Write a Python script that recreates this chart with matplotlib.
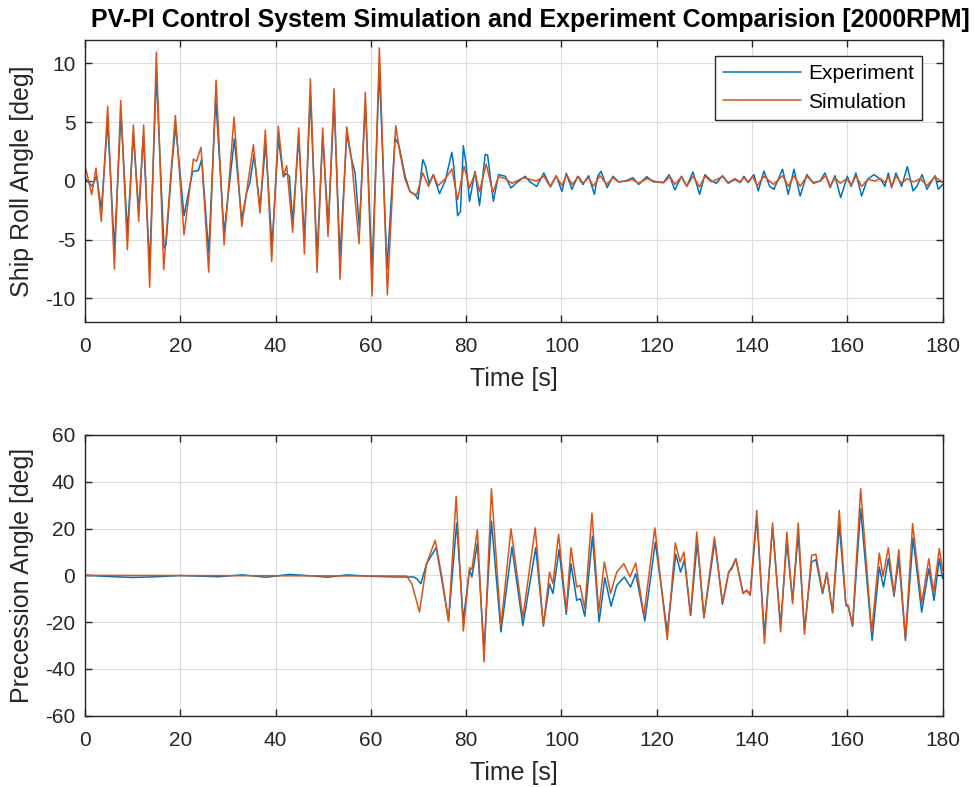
import matplotlib
matplotlib.use("Agg")
import matplotlib.pyplot as plt
import numpy as np

plt.rcParams['font.family'] = ['Liberation Sans', 'DejaVu Sans']
plt.rcParams['axes.unicode_minus'] = False

# ---- Ship roll angle [deg] ----
roll_sim_t = [0, 0.2, 1.4, 2.31, 3.43, 4.76, 6.16, 7.49, 8.89, 10.15, 11.27, 12.31, 13.57, 14.97,
              16.51, 18.96, 20.78, 22.74, 23.4, 24.35, 25.96, 27.5, 29.18, 31.28, 32.89, 35.33,
              36.73, 37.85, 39.18, 40.58, 41.63, 42.33, 43.59, 44.85, 46.04, 47.3, 48.7, 49.89,
              51.0, 52.27, 53.53, 54.93, 55.98, 57.52, 58.84, 60.24, 61.78, 63.46, 65.2, 66.1,
              67.2, 68.2, 69.6, 70.9, 72.1, 73.1, 74.1, 75.6, 77.0, 78.2, 79.56, 80.7, 81.86,
              82.8, 84.2, 85.6, 86.8, 88.2, 89.6, 92.0, 94.8, 96.3, 97.6, 98.9, 100.1, 101.1,
              102.2, 103.6, 104.5, 105.7, 106.7, 108.1, 109.5, 110.8, 112.0, 113.7, 114.8, 116.2,
              117.9, 120.0, 121.4, 122.8, 123.8, 125.2, 126.3, 127.6, 129.0, 130.1, 131.5, 133.8,
              135.0, 136.4, 137.5, 138.3, 139.2, 140.1, 141.1, 142.5, 144.5, 146.4, 147.6, 148.8,
              150.1, 151.5, 152.9, 154.3, 155.5, 156.4, 157.4, 158.5, 159.9, 160.8, 161.8, 163.0,
              164.4, 165.8, 167.0, 167.9, 168.6, 169.3, 170.2, 171.4, 172.5, 173.9, 175.3, 176.7,
              178.4, 180.0]
roll_sim_v = [0.9, 1.0, -1.17, 1.1, -3.44, 6.36, -7.5, 6.84, -5.86, 4.77, -3.44, 4.77, -9.04, 10.96,
              -7.55, 5.57, -4.58, 1.87, 1.67, 2.87, -7.76, 8.58, -5.43, 5.45, -3.87, 3.09,
              -2.73, 4.32, -6.85, 4.66, 0.4, 1.3, -4.38, 4.51, -6.2, 8.69, -7.79, 4.51,
              -4.72, 7.84, -8.36, 4.6, 1.67, -5.34, 7.55, -9.78, 11.33, -9.69, 4.71, 2.38,
              0.12, -0.9, -1.2, 0.68, -0.46, 0.54, -0.4, 0.17, 1.02, -1.59, 1.25, -0.6, 0.68,
              -0.9, 1.45, -1.0, 0.37, 0.2, -0.2, 0.28, 0.0, 0.4, -0.46, 0.4, -0.4, 0.54,
              -0.3, 0.37, -0.2, 0.28, -0.46, 0.45, -0.3, 0.28, -0.08, 0.0, 0.14, -0.2,
              0.2, -0.08, -0.14, 0.37, -0.3, 0.37, -0.46, 0.4, -0.5, 0.4, -0.08, 0.37,
              -0.14, 0.2, -0.08, 0.28, -0.08, 0.4, -0.4, 0.4, -0.3, 0.45, -0.46, 0.45,
              -0.46, 0.4, -0.14, 0.0, 0.45, -0.46, 0.28, -0.2, 0.2, -0.4, 0.45, -0.46,
              0.14, 0.0, 0.2, -0.14, 0.4, -0.46, 0.4, -0.2, 0.2, -0.08, 0.2, -0.4,
              0.37, -0.14]

roll_exp_t = [0, 0.5, 1.5, 2.45, 3.43, 4.76, 6.16, 7.56, 8.89, 10.15, 11.27, 12.24, 13.57, 14.97,
              16.58, 17.0, 18.26, 19.03, 20.78, 22.6, 23.8, 24.5, 25.96, 27.43, 29.18, 31.35,
              32.89, 33.9, 34.6, 35.47, 36.73, 37.92, 39.25, 40.58, 41.63, 42.19, 42.9, 43.59,
              44.85, 46.04, 47.3, 48.7, 49.89, 51.07, 52.27, 53.53, 54.93, 55.98, 56.68, 57.59,
              58.84, 60.24, 61.78, 63.39, 65.07, 65.9, 67.2, 68.2, 69.3, 69.9, 70.9, 71.5, 72.2,
              73.1, 74.4, 75.6, 77.0, 77.4, 78.2, 78.8, 79.4, 79.97, 80.7, 81.86, 82.8, 84.0,
              84.5, 85.7, 86.8, 88.2, 89.4, 90.6, 92.4, 93.4, 94.8, 96.3, 97.7, 98.9, 100.1,
              101.0, 102.2, 103.4, 104.5, 105.7, 106.9, 107.6, 108.3, 109.6, 110.8, 112.0, 113.4,
              115.0, 116.2, 117.9, 119.3, 121.4, 122.6, 123.8, 125.2, 126.3, 127.6, 129.0, 130.1,
              131.5, 132.5, 133.8, 135.0, 136.4, 137.5, 138.3, 139.2, 140.4, 141.3, 142.5, 143.7,
              144.6, 146.4, 147.6, 148.8, 150.1, 151.5, 152.9, 154.3, 155.3, 156.4, 157.4, 158.6,
              160.0, 160.8, 161.8, 163.0, 164.2, 165.6, 167.0, 167.9, 168.6, 169.3, 170.2, 171.4,
              172.6, 173.8, 174.6, 175.7, 176.7, 178.4, 179.1, 180.0]
roll_exp_v = [0.25, 0.0, -0.45, 0.45, -2.45, 5.08, -5.8, 5.8, -4.43, 3.95, -2.59, 3.8, -7.28, 9.06,
              -5.71, -5.4, 1.47, 4.71, -2.96, 0.82, 0.88, 1.87, -6.14, 7.07, -4.43, 3.58,
              -3.3, -1.0, -0.17, 2.24, -2.3, 3.24, -5.57, 3.66, 0.35, 0.63, 0.4, -3.58,
              3.75, -5.0, 7.21, -6.42, 3.8, -3.87, 6.79, -6.56, 3.98, 1.82, 0.68, -4.0,
              6.65, -7.56, 9.49, -7.5, 3.66, 3.0, 0.4, -0.9, -1.2, -1.55, 1.82, 1.25, -0.2,
              0.54, -1.08, 0.0, 2.44, 1.25, -2.96, -2.6, 3.0, 1.5, -1.73, 0.82, -2.1, 2.27,
              2.2, -1.73, 0.54, 0.4, -0.6, -0.14, 0.4, -0.08, -0.46, 0.68, -0.5, 0.45, -0.9,
              0.65, -0.71, 0.4, -0.3, 0.45, -1.14, 0.4, 0.82, -0.57, 0.4, -0.08, 0.0,
              0.28, -0.3, 0.37, -0.08, -0.14, 0.54, -0.77, 0.4, -0.46, 0.77, -1.14, 0.54,
              0.0, -0.2, 0.45, -0.2, 0.14, -0.14, 0.4, -0.14, 0.54, -0.85, 0.85, -0.46,
              -0.71, 1.0, -1.14, 1.0, -1.28, 0.54, -0.2, 0.0, 0.68, -0.57, 0.45, -1.42,
              0.4, -0.46, 0.68, -1.28, 0.14, 0.54, 0.14, -0.46, 0.68, -0.57, 0.68, -0.46,
              1.22, -0.85, -0.46, 0.54, -0.71, 0.45, -0.71, -0.3]

# ---- Precession angle [deg] ----
prec_sim_t = [0, 67.5, 68.6, 70.2, 71.7, 73.5, 74.9, 76.3, 77.9, 79.4, 80.7, 81.2, 82.35, 83.75,
              85.3, 87.3, 89.4, 91.9, 94.5, 96.2, 97.5, 98.2, 99.4, 101.0, 102.0, 103.2, 103.9,
              104.9, 106.4, 107.8, 109.0, 110.3, 111.6, 113.1, 114.4, 115.6, 117.3, 119.6, 122.2,
              123.9, 124.9, 125.7, 127.1, 128.4, 129.9, 132.1, 133.8, 135.1, 135.8, 136.6, 138.1,
              138.9, 139.6, 141.0, 142.6, 144.3, 146.0, 147.3, 148.5, 149.7, 151.0, 152.5, 153.4,
              154.8, 155.7, 156.9, 158.3, 159.7, 160.2, 161.1, 162.8, 165.1, 166.7, 167.5, 168.6,
              169.8, 170.8, 172.2, 173.7, 175.6, 177.1, 178.1, 179.3, 180.0]
prec_sim_v = [0, -0.3, -3.6, -15.7, 5.0, 15.0, -0.7, -19.5, 33.8, -23.8, 3.3, 2.4, 19.5, -37.0,
              37.0, -21.8, 19.9, -18.1, 20.3, -21.8, 1.4, -3.6, 17.5, -15.0, 11.8, -5.0, -4.3,
              -14.2, 26.6, -15.7, 5.7, -7.8, 1.4, 5.0, -0.7, 5.3, -17.1, 20.3, -27.5,
              13.8, 5.7, 10.0, -17.1, 18.5, -18.1, 16.4, -11.8, 1.4, 2.8, 7.1, -7.8,
              -6.4, -8.3, 27.8, -29.2, 22.4, -24.2, 18.5, -12.1, 22.4, -25.2, 8.5, 9.0,
              -7.1, 1.4, -15.7, 27.8, -12.4, -12.8, -21.4, 37.0, -24.2, 9.5, -0.4, 11.8,
              -8.1, 11.0, -27.1, 22.1, -12.1, 7.1, -7.5, 11.4, 2.1]

prec_exp_t = [0, 5, 10, 15, 20, 25, 28, 33, 38, 43, 48, 51, 55, 60, 65.4, 68.9, 69.6, 70.5, 71.7,
              73.7, 74.9, 76.3, 78.0, 79.4, 80.7, 81.2, 82.35, 83.75, 85.3, 87.3, 89.6, 91.9,
              94.6, 96.2, 97.5, 98.2, 99.5, 101.0, 102.0, 103.2, 104.0, 104.9, 106.5, 107.9,
              109.1, 110.4, 111.6, 113.2, 114.5, 115.6, 117.5, 119.7, 122.2, 124.0, 125.0, 125.8,
              127.1, 128.5, 129.9, 132.2, 133.8, 135.1, 135.8, 136.6, 138.1, 138.9, 139.6, 141.0,
              142.6, 144.3, 146.0, 147.3, 148.5, 149.7, 151.0, 152.5, 153.4, 154.8, 155.7, 156.9,
              158.3, 159.7, 160.2, 161.1, 162.8, 165.2, 166.7, 167.6, 168.6, 169.8, 170.8, 172.2,
              173.8, 175.6, 177.1, 178.2, 179.3, 180.0]
prec_exp_v = [0, -0.5, -0.9, -0.6, -0.1, -0.4, -0.6, 0.2, -0.8, 0.4, -0.3, -0.8, 0.2, -0.4, -0.7,
              -0.7, -1.4, -3.6, 5.0, 11.8, -2.1, -19.5, 22.4, -19.2, 2.4, -0.7, 13.8, -31.8,
              23.2, -24.2, 12.1, -21.4, 11.8, -21.4, -3.6, -7.8, 11.0, -16.7, 5.0, -10.7,
              -10.0, -17.5, 16.7, -19.9, -1.0, -13.2, -4.3, -0.7, -5.0, 0.7, -19.5, 14.2,
              -24.2, 9.0, 1.4, 6.7, -17.1, 14.2, -18.1, 14.7, -12.4, 1.4, 3.6, 7.1, -7.5,
              -6.4, -8.5, 24.6, -25.6, 20.7, -21.4, 14.2, -10.7, 17.7, -23.5, 5.7, 6.7, -7.8,
              0.7, -16.1, 21.8, -12.8, -13.5, -21.8, 28.5, -27.8, 3.6, -5.0, 7.1, -9.0, 7.1,
              -27.8, 16.1, -15.7, 2.8, -10.7, 7.1, -1.4]

x_ticks = list(range(0, 181, 20))
roll_ticks = [-10, -5, 0, 5, 10]
prec_ticks = [-60, -40, -20, 0, 20, 40, 60]

BLUE = '#0072BD'
ORANGE = '#D95319'
EDGE = '#262626'

fig = plt.figure(figsize=(9.76, 7.87), dpi=100)
ax1 = fig.add_axes([0.0871, 0.5909, 0.8787, 0.3583])
ax2 = fig.add_axes([0.0871, 0.0906, 0.8787, 0.3567])


def style(ax, yticks, ylim, ylabel, xlabel_y):
    ax.set_xlim(0, 180)
    ax.set_ylim(*ylim)
    ax.set_xticks(x_ticks)
    ax.set_yticks(yticks)
    ax.grid(True, color='#dcdcdc', linewidth=0.8)
    ax.set_axisbelow(True)
    ax.tick_params(direction='in', length=5, width=1.0, top=True, right=True,
                   labelsize=15, colors=EDGE)
    ax.tick_params(axis='x', pad=11)
    ax.tick_params(axis='y', pad=7)
    for s in ax.spines.values():
        s.set_color(EDGE)
        s.set_linewidth(1.0)
    ax.set_xlabel('Time [s]', fontsize=18, color=EDGE)
    ax.set_ylabel(ylabel, fontsize=18, color=EDGE)
    ax.xaxis.set_label_coords(0.5, xlabel_y)
    ax.yaxis.set_label_coords(-0.0595, 0.5)


kw = dict(linewidth=1.1, solid_joinstyle='round', solid_capstyle='round')
ax1.plot(roll_exp_t, roll_exp_v, color=BLUE, label='Experiment', **kw)
ax1.plot(roll_sim_t, roll_sim_v, color=ORANGE, label='Simulation', **kw)
style(ax1, roll_ticks, (-12, 12), 'Ship Roll Angle [deg]', -0.158)
leg = ax1.legend(loc='upper right', bbox_to_anchor=(0.976, 0.943), borderaxespad=0,
                 fontsize=15, handlelength=3.7, handletextpad=0.35, borderpad=0.4,
                 labelspacing=0.45, fancybox=False, framealpha=1.0, edgecolor=EDGE)
leg.get_frame().set_linewidth(1.0)

ax2.plot(prec_exp_t, prec_exp_v, color=BLUE, **kw)
ax2.plot(prec_sim_t, prec_sim_v, color=ORANGE, **kw)
style(ax2, prec_ticks, (-60, 60), 'Precession Angle [deg]', -0.16)

fig.text(0.543, 0.974, 'PV-PI Control System Simulation and Experiment Comparision [2000RPM]',
         ha='center', va='center', fontsize=18, fontweight='bold', color='black')

fig.savefig('out.png', dpi=100)
